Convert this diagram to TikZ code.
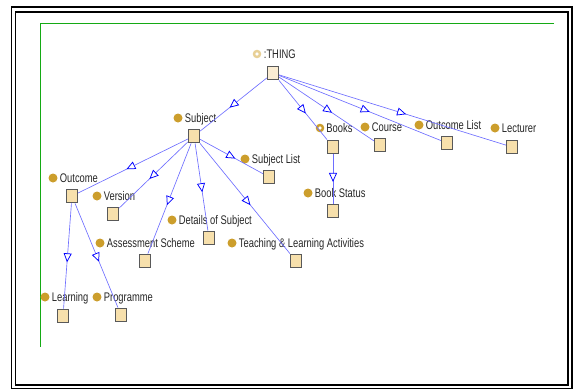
\documentclass[tikz,border=0pt]{standalone}
\usepackage{fontspec}
\setmainfont{Liberation Sans}[FakeStretch=0.75]
\usetikzlibrary{arrows.meta,positioning,decorations.markings}
\definecolor{clsfill}{RGB}{247,224,172}
\definecolor{topfill}{RGB}{251,237,211}
\definecolor{dotgold}{RGB}{204,158,44}
\definecolor{ringtan}{RGB}{232,208,150}
\definecolor{edgeblue}{RGB}{110,110,255}
\definecolor{framegreen}{RGB}{20,170,20}
\tikzset{
  cls/.style={draw=black!65, line width=1.3pt, fill=clsfill, minimum width=11pt, minimum height=13.5pt, inner sep=0pt},
  dot/.style={circle, fill=dotgold, minimum size=9pt, inner sep=0pt},
  ring/.style={circle, draw=dotgold, line width=2.4pt, fill=white, minimum size=6pt, inner sep=0pt},
  lbl/.style={inner xsep=0pt, inner ysep=0pt, text height=9.5pt, text depth=1pt, text=black!85, font=\fontsize{12.5}{14}\selectfont},
  isa/.style={draw=edgeblue, line width=0.65pt, postaction={decorate},
    decoration={markings, mark=at position 0.56 with {\arrow[blue, line width=0.75pt]{Triangle[length=9pt, width=8pt, fill=white]}}}}
}
\begin{document}
\begin{tikzpicture}[x=1pt, y=-1pt]
  \useasboundingbox (0,0) rectangle (573,389);
  % page frame
  \draw[line width=1.4pt] (11.5,7) rectangle (572,388.5);
  \draw[line width=1.4pt] (15.5,12) rectangle (568,385);
  \draw[framegreen, line width=0.8pt] (554,23) -- (40,23) -- (40,347);

  % classes
  \node[cls, fill=topfill] (thing) at (273,73) {};
  \node[cls] (subject) at (194,136) {};
  \node[cls] (books) at (333,147) {};
  \node[cls] (course) at (380,145) {};
  \node[cls] (outlist) at (447,143) {};
  \node[cls] (lecturer) at (512,147) {};
  \node[cls] (sublist) at (269,177) {};
  \node[cls] (bookstat) at (333,211) {};
  \node[cls] (details) at (209,238) {};
  \node[cls] (teaching) at (296,261) {};
  \node[cls] (outcome) at (72,196) {};
  \node[cls] (version) at (113,214) {};
  \node[cls] (assess) at (145,261) {};
  \node[cls] (learning) at (63,316) {};
  \node[cls] (programme) at (121,315) {};

  % labels
  \node[ring, draw=ringtan] (thingdot) at (257,54) {};
  \node[lbl, right=2.5pt of thingdot] (thinglbl) {:THING};
  \node[dot] (subjectdot) at (178,118) {};
  \node[lbl, right=2pt of subjectdot] (subjectlbl) {Subject};
  \node[ring] (booksdot) at (320,128) {};
  \node[lbl, right=2pt of booksdot] (bookslbl) {Books};
  \node[dot] (coursedot) at (365,127) {};
  \node[lbl, right=2pt of coursedot] (courselbl) {Course};
  \node[dot] (outlistdot) at (419,125) {};
  \node[lbl, right=2pt of outlistdot] (outlistlbl) {Outcome List};
  \node[dot] (lecturerdot) at (495,128) {};
  \node[lbl, right=2pt of lecturerdot] (lecturerlbl) {Lecturer};
  \node[dot] (sublistdot) at (245,159) {};
  \node[lbl, right=2pt of sublistdot] (sublistlbl) {Subject List};
  \node[dot] (bookstatdot) at (308,193) {};
  \node[lbl, right=2pt of bookstatdot] (bookstatlbl) {Book Status};
  \node[dot] (detailsdot) at (172,220) {};
  \node[lbl, right=2pt of detailsdot] (detailslbl) {Details of Subject};
  \node[dot] (teachingdot) at (232,243) {};
  \node[lbl, right=2pt of teachingdot] (teachinglbl) {Teaching \& Learning Activities};
  \node[dot] (outcomedot) at (53,178) {};
  \node[lbl, right=2pt of outcomedot] (outcomelbl) {Outcome};
  \node[dot] (versiondot) at (97,196) {};
  \node[lbl, right=2pt of versiondot] (versionlbl) {Version};
  \node[dot] (assessdot) at (100,243) {};
  \node[lbl, right=2pt of assessdot] (assesslbl) {Assessment Scheme};
  \node[dot] (learningdot) at (45,297) {};
  \node[lbl, right=2pt of learningdot] (learninglbl) {Learning};
  \node[dot] (programmedot) at (97,297) {};
  \node[lbl, right=2pt of programmedot] (programmelbl) {Programme};

  % subclass links
  \draw[isa] (thing) -- (subject);
  \draw[isa] (thing) -- (books);
  \draw[isa] (thing) -- (course);
  \draw[isa] (thing) -- (outlist);
  \draw[isa] (thing) -- (lecturer);
  \draw[isa] (subject) -- (outcome);
  \draw[isa] (subject) -- (version);
  \draw[isa] (subject) -- (assess);
  \draw[isa] (subject) -- (details);
  \draw[isa] (subject) -- (teaching);
  \draw[isa] (subject) -- (sublist);
  \draw[isa] (books) -- (bookstat);
  \draw[isa] (outcome) -- (learning);
  \draw[isa] (outcome) -- (programme);
\end{tikzpicture}
\end{document}
